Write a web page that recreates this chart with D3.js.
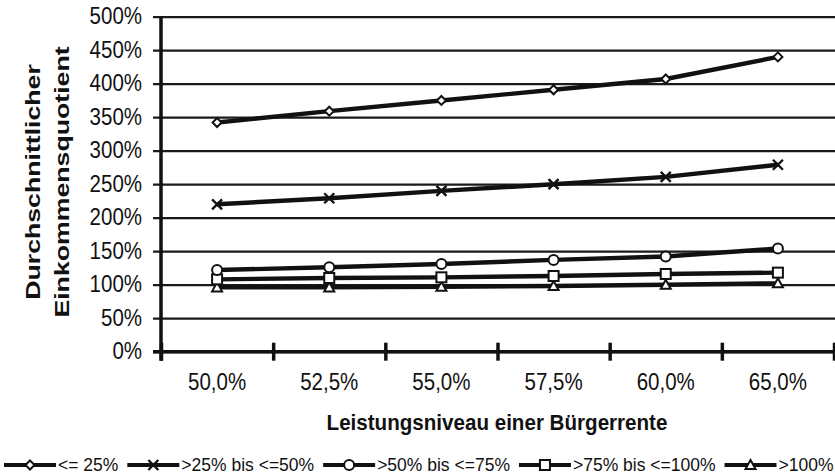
<!DOCTYPE html>
<html>
<head>
<meta charset="utf-8">
<script src="https://cdn.jsdelivr.net/npm/d3@7"></script>
<style>
  body { margin: 0; background: #fff; }
  svg { display: block; font-family: "Liberation Sans", Arial, sans-serif; }
</style>
</head>
<body>
<div class="chart"></div>
<script>
var categories = ["50,0%", "52,5%", "55,0%", "57,5%", "60,0%", "65,0%"];
var seriesNames = ["<= 25%", ">25% bis <=50%", ">50% bis <=75%", ">75% bis <=100%", ">100%"];
var seriesSymbols = ["diamond", "cross", "circle", "square", "triangle"];
var s1 = [3.42, 3.59, 3.75, 3.91, 4.07, 4.40];
var s2 = [2.20, 2.29, 2.40, 2.50, 2.61, 2.79];
var s3 = [1.22, 1.26, 1.31, 1.37, 1.42, 1.54];
var s4 = [1.08, 1.10, 1.11, 1.13, 1.16, 1.18];
var s5 = [0.96, 0.96, 0.97, 0.98, 1.00, 1.02];
var yTicks = [0, 0.5, 1, 1.5, 2, 2.5, 3, 3.5, 4, 4.5, 5];

var allSeries = [s1, s2, s3, s4, s5];

var svgWidth = 835, svgHeight = 476;
var plotLeft = 161, plotRight = 834, plotTop = 16.7, plotBottom = 351.7;

var svg = d3.select(".chart").append("svg")
  .attr("width", svgWidth)
  .attr("height", svgHeight);

var x = d3.scaleBand().domain(categories).range([plotLeft, plotRight]);
var xEdge = d3.scaleLinear().domain([0, categories.length]).range([plotLeft, plotRight]);
var y = d3.scaleLinear().domain([0, 5]).range([plotBottom, plotTop]);

// gridlines + y tick labels (gridline starts left of axis = tick)
var yAxis = svg.append("g")
  .attr("transform", `translate(${plotLeft - 8},0)`)
  .call(d3.axisLeft(y).tickValues(yTicks).tickSize(-(plotRight + 1 - plotLeft + 8)).tickPadding(11)
    .tickFormat(d => d3.format(".0f")(d * 100) + "%"));
yAxis.select(".domain").remove();
yAxis.selectAll("line").attr("stroke", "#1a1a1a").attr("stroke-width", 2.2);
yAxis.selectAll("text").attr("font-size", 20.5).attr("fill", "#111")
  .attr("dy", "0.3em").attr("transform", "scale(1,1.15)");

// x axis boundary ticks
var xTicks = svg.append("g")
  .attr("transform", `translate(0,${plotBottom - 9})`)
  .call(d3.axisBottom(xEdge).tickValues(d3.range(categories.length + 1)).tickSize(18).tickFormat(""));
xTicks.select(".domain").remove();
xTicks.selectAll("line").attr("stroke", "#111").attr("stroke-width", 3.5);

// x labels
var xAxis = svg.append("g")
  .attr("transform", `translate(0,${plotBottom})`)
  .call(d3.axisBottom(x).tickSize(0).tickPadding(19));
xAxis.select(".domain").remove();
xAxis.selectAll("text").attr("font-size", 20.5).attr("fill", "#111")
  .attr("transform", "scale(1,1.15)");

// axis lines
svg.append("line").attr("x1", plotLeft).attr("x2", plotLeft).attr("y1", plotTop).attr("y2", plotBottom + 9)
  .attr("stroke", "#111").attr("stroke-width", 3.5);
svg.append("line").attr("x1", plotLeft - 8).attr("x2", plotRight + 1).attr("y1", plotBottom).attr("y2", plotBottom)
  .attr("stroke", "#111").attr("stroke-width", 3.5);

// series
var line = d3.line()
  .x((d, i) => x(categories[i]) + x.bandwidth() / 2)
  .y(d => y(d));

function drawMarker(g, type, cx, cy) {
  if (type === "diamond") {
    g.append("path").attr("d", `M${cx},${cy - 4.5}L${cx + 4.5},${cy}L${cx},${cy + 4.5}L${cx - 4.5},${cy}Z`)
      .attr("fill", "#fff").attr("stroke", "#111").attr("stroke-width", 2);
  } else if (type === "cross") {
    g.append("path").attr("d", `M${cx - 5},${cy - 5}L${cx + 5},${cy + 5}M${cx - 5},${cy + 5}L${cx + 5},${cy - 5}`)
      .attr("stroke", "#111").attr("stroke-width", 2.4);
  } else if (type === "circle") {
    g.append("circle").attr("cx", cx).attr("cy", cy).attr("r", 5)
      .attr("fill", "#fff").attr("stroke", "#111").attr("stroke-width", 2);
  } else if (type === "square") {
    g.append("rect").attr("x", cx - 5).attr("y", cy - 5).attr("width", 10).attr("height", 10)
      .attr("fill", "#fff").attr("stroke", "#111").attr("stroke-width", 2);
  } else if (type === "triangle") {
    g.append("path").attr("d", `M${cx},${cy - 5}L${cx + 5},${cy + 4}L${cx - 5},${cy + 4}Z`)
      .attr("fill", "#fff").attr("stroke", "#111").attr("stroke-width", 2);
  }
}

allSeries.slice().reverse().forEach(function(vals, ri) {
  var si = allSeries.length - 1 - ri;
  var g = svg.append("g");
  g.append("path").datum(vals)
    .attr("d", line)
    .attr("fill", "none")
    .attr("stroke", "#111")
    .attr("stroke-width", 4.4);
  vals.forEach(function(v, i) {
    drawMarker(g, seriesSymbols[si], x(categories[i]) + x.bandwidth() / 2, y(v));
  });
});

// axis titles
svg.append("text")
  .attr("transform", "translate(497,430) scale(1.03,1.12)")
  .attr("text-anchor", "middle")
  .attr("font-size", 20)
  .attr("font-weight", "bold")
  .attr("fill", "#111")
  .text("Leistungsniveau einer Bürgerrente");

var yTitle = svg.append("text")
  .attr("transform", "translate(0,182) rotate(-90) scale(1.27,1)")
  .attr("text-anchor", "middle")
  .attr("font-size", 21)
  .attr("font-weight", "bold")
  .attr("fill", "#111");
yTitle.append("tspan").attr("x", 0).attr("y", 40).text("Durchschnittlicher");
yTitle.append("tspan").attr("x", 0).attr("y", 69).text("Einkommensquotient");

// legend
var legend = svg.append("g").attr("transform", "translate(0,465)");
var lx = 4;
seriesNames.forEach(function(name, i) {
  var item = legend.append("g");
  item.append("line").attr("x1", lx).attr("x2", lx + 52).attr("y1", 0).attr("y2", 0)
    .attr("stroke", "#111").attr("stroke-width", 4.2);
  drawMarker(item, seriesSymbols[i], lx + 26, 0);
  var t = item.append("text").attr("x", lx + 54).attr("y", 6)
    .attr("font-size", 17.5).attr("fill", "#111").text(name);
  lx += 54 + t.node().getComputedTextLength() + 9;
});
</script>
</body>
</html>
